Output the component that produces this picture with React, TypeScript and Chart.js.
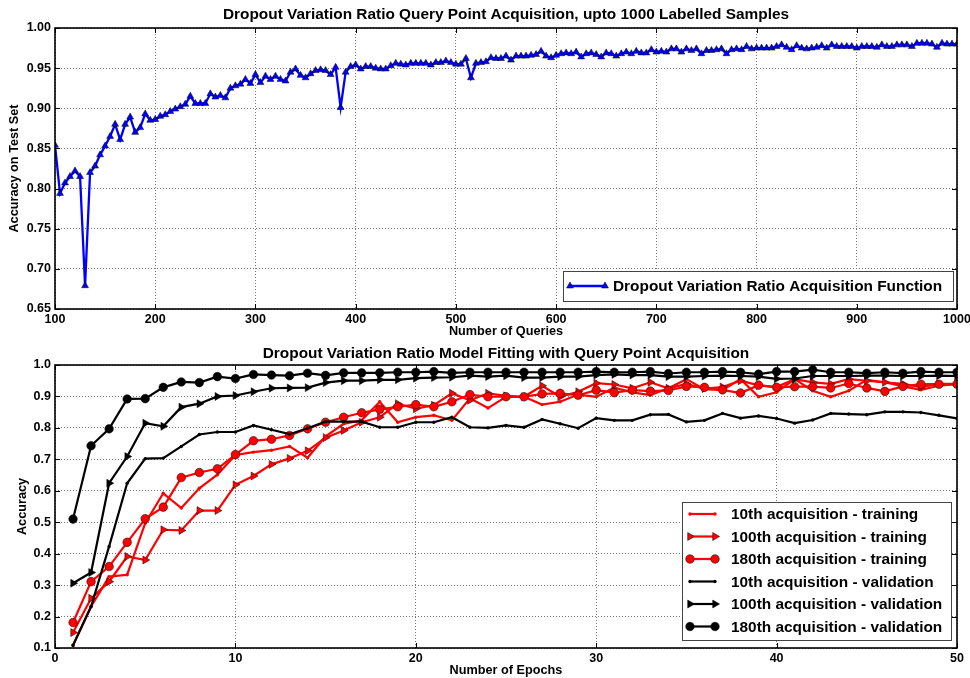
import React, { useEffect, useRef } from "react";
import { Chart, registerables } from "chart.js";
Chart.register(...registerables);

const FONT = '"Liberation Sans", Arial, Helvetica, sans-serif';

// ---------------- Top chart data ----------------
const topTitle = "Dropout Variation Ratio Query Point Acquisition, upto 1000 Labelled Samples";
const topXLabel = "Number of Queries";
const topYLabel = "Accuracy on Test Set";
const topSeriesLabel = "Dropout Variation Ratio Acquisition Function";
const queryStart = 100;
const queryStep = 5;
const topAccuracy = [
  0.854, 0.794, 0.807, 0.815, 0.822, 0.815, 0.679, 0.820, 0.828, 0.842,
  0.853, 0.865, 0.880, 0.861, 0.880, 0.889, 0.870, 0.876, 0.893, 0.885,
  0.886, 0.890, 0.892, 0.896, 0.899, 0.902, 0.905, 0.915, 0.906, 0.906,
  0.906, 0.918, 0.914, 0.916, 0.913, 0.925, 0.928, 0.930, 0.936, 0.931,
  0.942, 0.932, 0.940, 0.936, 0.940, 0.936, 0.934, 0.945, 0.949, 0.941,
  0.938, 0.943, 0.947, 0.948, 0.947, 0.942, 0.951, 0.901, 0.945, 0.952,
  0.954, 0.949, 0.952, 0.952, 0.950, 0.949, 0.949, 0.953, 0.956, 0.955,
  0.954, 0.956, 0.956, 0.956, 0.956, 0.954, 0.957, 0.957, 0.959, 0.957,
  0.955, 0.955, 0.962, 0.938, 0.956, 0.957, 0.958, 0.963, 0.962, 0.962,
  0.965, 0.960, 0.965, 0.965, 0.965, 0.966, 0.967, 0.971, 0.965, 0.963,
  0.966, 0.968, 0.969, 0.968, 0.970, 0.964, 0.968, 0.969, 0.967, 0.964,
  0.969, 0.968, 0.965, 0.968, 0.970, 0.968, 0.971, 0.969, 0.969, 0.973,
  0.970, 0.971, 0.970, 0.974, 0.974, 0.970, 0.974, 0.972, 0.974, 0.968,
  0.972, 0.972, 0.973, 0.974, 0.968, 0.973, 0.974, 0.973, 0.977, 0.974,
  0.975, 0.975, 0.975, 0.975, 0.977, 0.979, 0.976, 0.973, 0.978, 0.975,
  0.974, 0.975, 0.976, 0.978, 0.975, 0.979, 0.977, 0.977, 0.977, 0.977,
  0.975, 0.977, 0.977, 0.977, 0.976, 0.979, 0.977, 0.977, 0.979, 0.979,
  0.979, 0.977, 0.981, 0.981, 0.981, 0.980, 0.976, 0.981, 0.980, 0.980,
  0.980,
];

// ---------------- Bottom chart data ----------------
const bottomTitle = "Dropout Variation Ratio Model Fitting with Query Point Acquisition";
const bottomXLabel = "Number of Epochs";
const bottomYLabel = "Accuracy";
const epochs = [
  1, 2, 3, 4, 5, 6, 7, 8, 9, 10, 11, 12, 13, 14, 15, 16, 17, 18, 19, 20, 21, 22, 23, 24, 25,
  26, 27, 28, 29, 30, 31, 32, 33, 34, 35, 36, 37, 38, 39, 40, 41, 42, 43, 44, 45, 46, 47, 48, 49, 50,
];
const train10 = [
  0.110, 0.232, 0.327, 0.333, 0.497, 0.592, 0.545, 0.608, 0.651, 0.714, 0.723, 0.729, 0.741,
  0.705, 0.773, 0.813, 0.824, 0.883, 0.818, 0.834, 0.840, 0.824, 0.894, 0.863, 0.899, 0.899, 0.874,
  0.883, 0.906, 0.899, 0.928, 0.913, 0.904, 0.926,
  0.955, 0.923, 0.920, 0.955, 0.899, 0.913, 0.955, 0.918, 0.899, 0.918, 0.953, 0.945, 0.932, 0.921, 0.934, 0.939,
];
const train100 = [
  0.149, 0.258, 0.311, 0.391, 0.380, 0.476, 0.474, 0.537, 0.537, 0.619, 0.647, 0.684, 0.703,
  0.727, 0.769, 0.792, 0.818, 0.834, 0.877, 0.861, 0.872, 0.910, 0.888, 0.910, 0.902, 0.899, 0.934,
  0.899, 0.915, 0.942, 0.938, 0.926, 0.945, 0.926,
  0.940, 0.925, 0.930, 0.950, 0.935, 0.930, 0.955, 0.945, 0.940, 0.955, 0.950, 0.945, 0.940, 0.930, 0.940, 0.940,
];
const train180 = [
  0.181, 0.311, 0.359, 0.436, 0.511, 0.548, 0.642, 0.658, 0.670, 0.715, 0.759, 0.764, 0.776,
  0.797, 0.818, 0.834, 0.848, 0.859, 0.867, 0.874, 0.867, 0.883, 0.906, 0.899, 0.899, 0.899, 0.908,
  0.910, 0.904, 0.920, 0.912, 0.920, 0.917, 0.919,
  0.932, 0.929, 0.921, 0.911, 0.936, 0.929, 0.931, 0.931, 0.927, 0.941, 0.927, 0.916, 0.932, 0.939, 0.939, 0.939,
];
const val10 = [
  0.108, 0.232, 0.423, 0.624, 0.702, 0.704, 0.741, 0.779, 0.787, 0.787, 0.808, 0.794, 0.780,
  0.799, 0.820, 0.820, 0.820, 0.802, 0.802, 0.818, 0.818, 0.834, 0.802, 0.800, 0.808, 0.802, 0.827,
  0.813, 0.799, 0.831, 0.824, 0.824, 0.842, 0.843,
  0.819, 0.824, 0.846, 0.831, 0.838, 0.830, 0.815, 0.825, 0.846, 0.844, 0.842, 0.851, 0.851, 0.849, 0.840, 0.830,
];
const val100 = [
  0.306, 0.340, 0.624, 0.709, 0.815, 0.805, 0.866, 0.877, 0.900, 0.903, 0.915, 0.926, 0.927,
  0.928, 0.944, 0.950, 0.950, 0.953, 0.953, 0.958, 0.960, 0.961, 0.966, 0.963, 0.966, 0.960, 0.960,
  0.963, 0.963, 0.968, 0.970, 0.968, 0.968, 0.963,
  0.963, 0.965, 0.966, 0.965, 0.963, 0.956, 0.957, 0.965, 0.965, 0.965, 0.966, 0.966, 0.965, 0.965, 0.966, 0.965,
];
const val180 = [
  0.510, 0.743, 0.797, 0.892, 0.893, 0.929, 0.946, 0.944, 0.963, 0.957, 0.970, 0.968, 0.966,
  0.974, 0.967, 0.975, 0.975, 0.975, 0.977, 0.977, 0.979, 0.975, 0.977, 0.977, 0.977, 0.977, 0.977,
  0.977, 0.977, 0.979, 0.977, 0.977, 0.979, 0.973,
  0.977, 0.977, 0.979, 0.977, 0.971, 0.979, 0.979, 0.985, 0.977, 0.977, 0.974, 0.977, 0.974, 0.979, 0.977, 0.977,
];
const bottomSeriesLabels = [
  "10th acquisition - training",
  "100th acquisition - training",
  "180th acquisition - training",
  "10th acquisition - validation",
  "100th acquisition - validation",
  "180th acquisition - validation",
];

// ---------------- helpers ----------------
type MarkerKind = "triangle" | "triangleRight" | "circle" | "dot";

function drawMarker(ctx: CanvasRenderingContext2D, kind: MarkerKind, x: number, y: number, r: number, fill: string) {
  ctx.save();
  ctx.fillStyle = fill;
  ctx.strokeStyle = "#000";
  ctx.lineWidth = 0.5;
  ctx.beginPath();
  if (kind === "triangle") {
    ctx.moveTo(x, y - r);
    ctx.lineTo(x + r * 0.866, y + r * 0.5);
    ctx.lineTo(x - r * 0.866, y + r * 0.5);
    ctx.closePath();
  } else if (kind === "triangleRight") {
    ctx.moveTo(x + r, y);
    ctx.lineTo(x - r * 0.5, y + r * 0.866);
    ctx.lineTo(x - r * 0.5, y - r * 0.866);
    ctx.closePath();
  } else {
    ctx.arc(x, y, r, 0, Math.PI * 2);
  }
  ctx.fill();
  if (kind !== "dot") ctx.stroke();
  ctx.restore();
}

const decorPlugin = {
  id: "decor",
  afterDraw(chart: any, _args: any, opts: any) {
    const { ctx, chartArea: ca } = chart;
    ctx.save();
    // inward tick marks on all four sides
    ctx.strokeStyle = "#000";
    ctx.lineWidth = 1;
    const xs = chart.scales.x;
    const ys = chart.scales.y;
    xs.ticks.forEach((t: any) => {
      const px = Math.round(xs.getPixelForValue(t.value)) + 0.5;
      ctx.beginPath();
      ctx.moveTo(px, ca.bottom);
      ctx.lineTo(px, ca.bottom - 5);
      ctx.moveTo(px, ca.top);
      ctx.lineTo(px, ca.top + 5);
      ctx.stroke();
    });
    ys.ticks.forEach((t: any) => {
      const py = Math.round(ys.getPixelForValue(t.value)) + 0.5;
      ctx.beginPath();
      ctx.moveTo(ca.left, py);
      ctx.lineTo(ca.left + 5, py);
      ctx.moveTo(ca.right, py);
      ctx.lineTo(ca.right - 5, py);
      ctx.stroke();
    });
    // frame
    ctx.lineWidth = 1.6;
    ctx.strokeRect(ca.left, ca.top, ca.right - ca.left, ca.bottom - ca.top);
    // title centred over plot area
    ctx.fillStyle = "#000";
    ctx.font = `bold ${opts.titleSize}px ${FONT}`;
    ctx.textAlign = "center";
    ctx.textBaseline = "middle";
    ctx.fillText(opts.title, (ca.left + ca.right) / 2, opts.titleY);
    // legend
    const lg = opts.legend;
    const bx = ca.right - lg.rightGap - lg.width;
    const by = ca.bottom - lg.bottomGap - lg.height;
    ctx.fillStyle = "#fff";
    ctx.fillRect(bx, by, lg.width, lg.height);
    ctx.strokeStyle = "#444";
    ctx.lineWidth = 1;
    ctx.strokeRect(Math.round(bx) + 0.5, Math.round(by) + 0.5, lg.width, lg.height);
    ctx.font = `bold ${lg.fontSize}px ${FONT}`;
    ctx.textAlign = "left";
    ctx.textBaseline = "middle";
    lg.items.forEach((it: any, i: number) => {
      const y = by + lg.firstRow + i * lg.rowGap;
      const x0 = bx + lg.sampleStart;
      const x1 = x0 + lg.sampleLen;
      ctx.strokeStyle = it.color;
      ctx.lineWidth = it.lineWidth;
      ctx.beginPath();
      ctx.moveTo(x0, y);
      ctx.lineTo(x1, y);
      ctx.stroke();
      drawMarker(ctx, it.marker, x0, y, it.radius, it.color);
      drawMarker(ctx, it.marker, x1, y, it.radius, it.color);
      ctx.fillStyle = "#000";
      ctx.fillText(it.label, bx + lg.textStart, y + 1);
    });
    ctx.restore();
  },
};

const TICK_SIZE = 12.5;
const LABEL_SIZE = 12.7;

function xAxis(min: number, max: number, step: number, label: string, digits: number) {
  return {
    type: "linear",
    min,
    max,
    ticks: {
      stepSize: step,
      padding: 3,
      autoSkip: false,
      maxRotation: 0,
      color: "#000",
      font: { family: FONT, size: TICK_SIZE, weight: "bold" },
      callback: (v: any) => Number(v).toFixed(digits),
    },
    grid: { color: "#777", lineWidth: 1, drawTicks: false },
    border: { display: false, dash: [1, 2] },
    title: {
      display: true,
      text: label,
      color: "#000",
      font: { family: FONT, size: LABEL_SIZE, weight: "bold" },
      padding: 0,
    },
    afterFit: (s: any) => {
      s.height = 30;
      s.paddingLeft = 0;
      s.paddingRight = 0;
    },
  };
}

function yAxis(min: number, max: number, step: number, label: string, digits: number, titlePad: number) {
  return {
    type: "linear",
    min,
    max,
    ticks: {
      stepSize: step,
      padding: 4,
      autoSkip: false,
      color: "#000",
      font: { family: FONT, size: TICK_SIZE, weight: "bold" },
      callback: (v: any) => Number(v).toFixed(digits),
    },
    grid: { color: "#777", lineWidth: 1, drawTicks: false },
    border: { display: false, dash: [1, 2] },
    title: {
      display: true,
      text: label,
      color: "#000",
      font: { family: FONT, size: LABEL_SIZE, weight: "bold" },
      padding: { top: titlePad, bottom: 0 },
    },
    afterFit: (s: any) => {
      s.width = 55;
      s.paddingTop = 0;
      s.paddingBottom = 0;
    },
  };
}

function topConfig(): any {
  return {
    type: "line",
    data: {
      datasets: [
        {
          label: topSeriesLabel,
          data: topAccuracy.map((y, i) => ({ x: queryStart + i * queryStep, y })),
          borderColor: "#0000ff",
          backgroundColor: "#0000ff",
          borderWidth: 2.3,
          pointStyle: "triangle",
          pointRadius: 4,
          pointBackgroundColor: "#0000ff",
          pointBorderColor: "#000",
          pointBorderWidth: 0.5,
          tension: 0,
        },
      ],
    },
    options: {
      responsive: false,
      animation: false,
      devicePixelRatio: 1,
      layout: { padding: { top: 28, right: 13, bottom: 0, left: 0 } },
      plugins: {
        legend: { display: false },
        tooltip: { enabled: false },
        title: { display: false },
        decor: {
          title: topTitle,
          titleSize: 15.4,
          titleY: 15,
          legend: {
            width: 390,
            height: 30,
            rightGap: 4,
            bottomGap: 8,
            firstRow: 15,
            rowGap: 0,
            sampleStart: 7,
            sampleLen: 35,
            textStart: 50,
            fontSize: 15.4,
            items: [{ label: topSeriesLabel, color: "#0000ff", marker: "triangle", radius: 4, lineWidth: 2.3 }],
          },
        },
      },
      scales: {
        x: xAxis(100, 1000, 100, topXLabel, 0),
        y: yAxis(0.65, 1.0, 0.05, topYLabel, 2, 6.4),
      },
    },
    plugins: [decorPlugin],
  };
}

function bottomConfig(): any {
  const series = [
    { data: train10, color: "#ff0000", marker: "dot" as MarkerKind, radius: 1.7 },
    { data: train100, color: "#ff0000", marker: "triangleRight" as MarkerKind, radius: 4.6 },
    { data: train180, color: "#ff0000", marker: "circle" as MarkerKind, radius: 4.3 },
    { data: val10, color: "#000000", marker: "dot" as MarkerKind, radius: 1.7 },
    { data: val100, color: "#000000", marker: "triangleRight" as MarkerKind, radius: 4.6 },
    { data: val180, color: "#000000", marker: "circle" as MarkerKind, radius: 4.3 },
  ];
  const datasets = series.map((s, i) => ({
    label: bottomSeriesLabels[i],
    data: s.data.map((y, j) => ({ x: epochs[j], y })),
    borderColor: s.color,
    backgroundColor: s.color,
    borderWidth: 2.2,
    pointStyle: s.marker === "triangleRight" ? "triangle" : "circle",
    pointRotation: s.marker === "triangleRight" ? 90 : 0,
    pointRadius: s.radius,
    pointBackgroundColor: s.color,
    pointBorderColor: "#000",
    pointBorderWidth: s.marker === "dot" ? 0 : 0.5,
    tension: 0,
    order: series.length - i,
  }));
  return {
    type: "line",
    data: { datasets },
    options: {
      responsive: false,
      animation: false,
      devicePixelRatio: 1,
      layout: { padding: { top: 26, right: 13, bottom: 0, left: 0 } },
      plugins: {
        legend: { display: false },
        tooltip: { enabled: false },
        title: { display: false },
        decor: {
          title: bottomTitle,
          titleSize: 15.4,
          titleY: 15,
          legend: {
            width: 269,
            height: 138,
            rightGap: 6,
            bottomGap: 8,
            firstRow: 12,
            rowGap: 22.5,
            sampleStart: 8,
            sampleLen: 25,
            textStart: 49,
            fontSize: 15.4,
            items: series.map((s, i) => ({
              label: bottomSeriesLabels[i],
              color: s.color,
              marker: s.marker,
              radius: s.marker === "dot" ? 1.7 : s.radius,
              lineWidth: 2.2,
            })),
          },
        },
      },
      scales: {
        x: xAxis(0, 50, 10, bottomXLabel, 0),
        y: yAxis(0.1, 1.0, 0.1, bottomYLabel, 1, 14.4),
      },
    },
    plugins: [decorPlugin],
  };
}

function ChartCanvas({ make, top }: { make: () => any; top: number }) {
  const ref = useRef<HTMLCanvasElement>(null);
  useEffect(() => {
    const chart = new Chart(ref.current as HTMLCanvasElement, make());
    return () => chart.destroy();
  }, [make]);
  return (
    <canvas
      ref={ref}
      width={970}
      height={339}
      style={{ position: "absolute", left: 0, top, width: 970, height: 339 }}
    />
  );
}

export default function App() {
  return (
    <div style={{ position: "absolute", left: 0, top: 0, width: 970, height: 678, background: "#fff", overflow: "hidden" }}>
      <ChartCanvas make={topConfig} top={0} />
      <ChartCanvas make={bottomConfig} top={339} />
    </div>
  );
}
